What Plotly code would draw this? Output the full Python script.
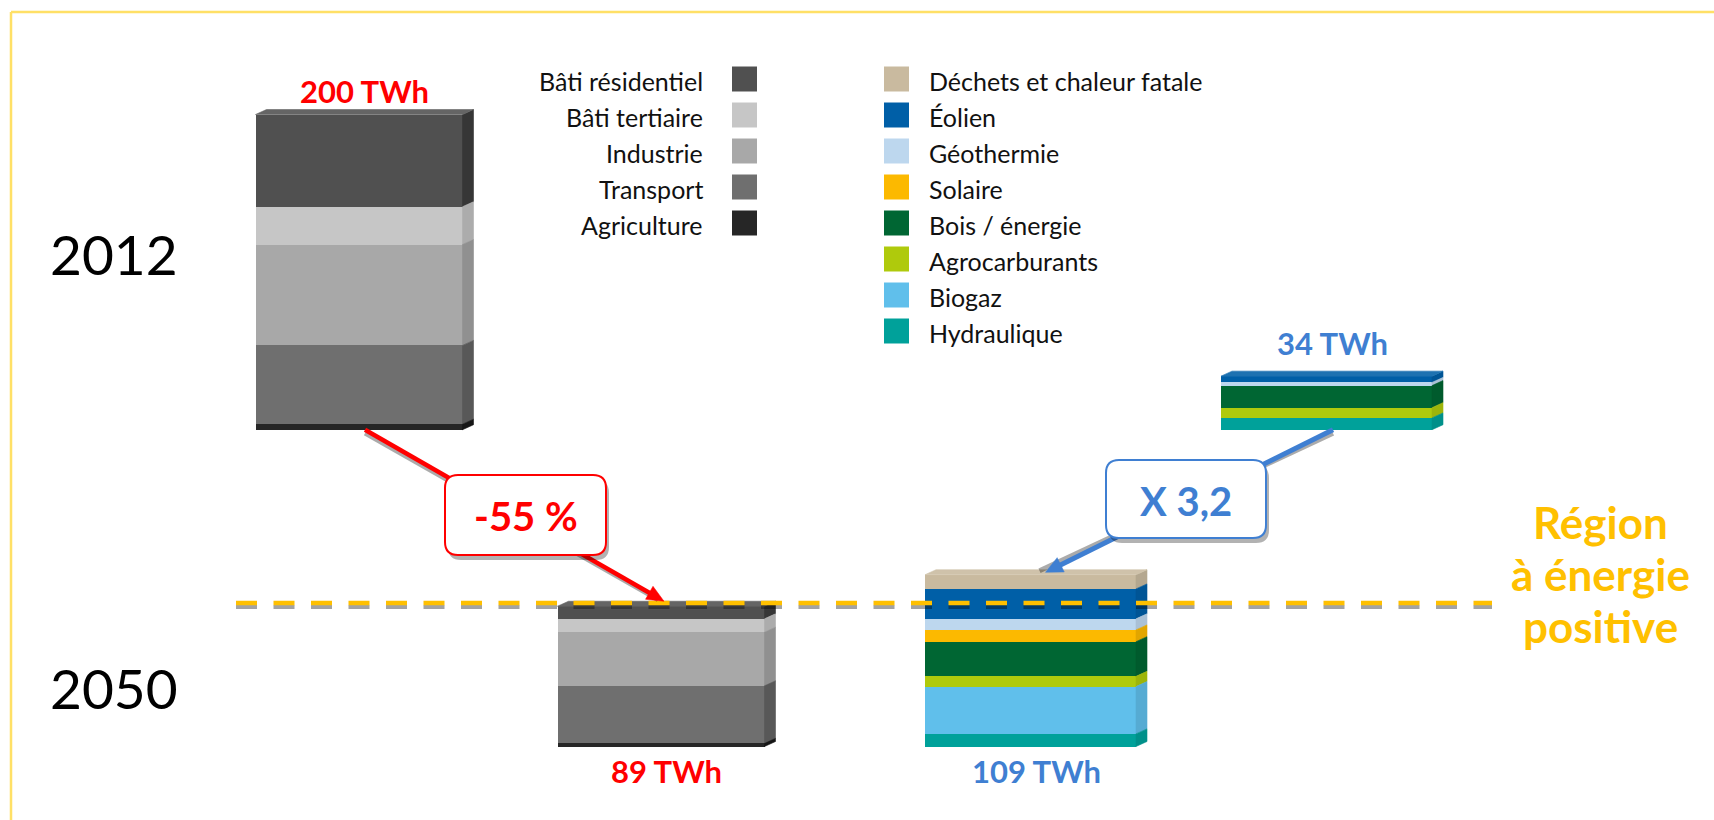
import plotly.graph_objects as go

# ---------------- data ----------------
years = ["2012", "2050"]
cons_labels = ["Bâti résidentiel", "Bâti tertiaire", "Industrie", "Transport", "Agriculture"]
cons_2012 = [58.5, 24.0, 64.0, 50.0, 3.5]
cons_2050 = [8.0, 8.5, 34.0, 36.5, 2.0]
prod_labels = ["Déchets et chaleur fatale", "Éolien", "Géothermie", "Solaire",
               "Bois / énergie", "Agrocarburants", "Biogaz", "Hydraulique"]
prod_2012 = [0.0, 4.0, 2.0, 0.0, 14.0, 6.5, 0.0, 7.5]
prod_2050 = [9.0, 19.0, 7.0, 7.5, 22.0, 6.5, 30.0, 8.0]
cons_total_labels = ["200 TWh", "89 TWh"]
prod_total_labels = ["34 TWh", "109 TWh"]
change_labels = ["-55 %", "X 3,2"]
region_lines = ["Région", "à énergie", "positive"]

# ---------------- styles ----------------
cons_colors = ["#505050", "#C6C6C6", "#A8A8A8", "#6F6F6F", "#262626"]
prod_colors = ["#C9BA9F", "#005FA7", "#BDD7EE", "#FCB900", "#006633",
               "#AFCA0C", "#60BFEB", "#00A19A"]
RED = "#FF0000"
BLUE = "#3F7FD2"
GOLD = "#FFC000"
FONT = "Lato"

W, H = 1714, 820
K = 1.576            # pixels per TWh
BASE_PX = 746.5      # pixel row of the 2050 baseline
ROW_2012 = 201.0     # vertical offset of the 2012 row (TWh units)
X_CONS = [359.0, 661.0]      # 2012, 2050
X_PROD = [1326.5, 1030.5]    # 2012, 2050
W_CONS, W_PROD = 207.0, 211.0
DX, DY = 11.0, 5.0 / K


def py2y(py):
    return (BASE_PX - py) / K


def y2py(y):
    return BASE_PX - y * K


def shade(hexc, f):
    hexc = hexc.lstrip("#")
    r, g, b = (int(hexc[i:i + 2], 16) for i in (0, 2, 4))
    if f <= 1:
        r, g, b = (int(c * f) for c in (r, g, b))
    else:
        t = f - 1
        r, g, b = (int(c + (255 - c) * t) for c in (r, g, b))
    return f"rgb({r},{g},{b})"


def bases_of(vals):
    out = [0.0] * len(vals)
    acc = 0.0
    for i in range(len(vals) - 1, -1, -1):
        out[i] = acc
        acc += vals[i]
    return out


fig = go.Figure()


def add_stack(colors, v12, v50, xs, width, side_f):
    offs = [ROW_2012, 0.0]
    b12, b50 = bases_of(v12), bases_of(v50)
    for i, col in enumerate(colors):
        vals = [v12[i], v50[i]]
        bases = [offs[0] + b12[i], offs[1] + b50[i]]
        fig.add_trace(go.Bar(x=xs, y=vals, base=bases, width=[width, width],
                             marker=dict(color=col, line=dict(width=0)),
                             showlegend=False, hoverinfo="skip"))
        # side faces
        sx, sy = [], []
        for x, v, b in zip(xs, vals, bases):
            if v <= 0:
                continue
            xr = x + width / 2
            sx += [xr, xr + DX, xr + DX, xr, xr, None]
            sy += [b, b + DY, b + v + DY, b + v, b, None]
        if sx:
            sc = shade(col, side_f[i])
            fig.add_trace(go.Scatter(x=sx, y=sy, mode="lines", fill="toself",
                                     fillcolor=sc, line=dict(color=sc, width=0.6),
                                     showlegend=False, hoverinfo="skip"))
    # top faces
    for x, vals, off in zip(xs, [v12, v50], offs):
        top_i = next(i for i, v in enumerate(vals) if v > 0)
        T = off + sum(vals)
        xl, xr = x - width / 2, x + width / 2
        tc = shade(colors[top_i], 1.12)
        fig.add_trace(go.Scatter(x=[xl, xl + DX, xr + DX, xr, xl],
                                 y=[T, T + DY, T + DY, T, T], mode="lines",
                                 fill="toself", fillcolor=tc,
                                 line=dict(color=tc, width=0.6),
                                 showlegend=False, hoverinfo="skip"))


add_stack(cons_colors, cons_2012, cons_2050, X_CONS, W_CONS, [0.68, 0.87, 0.86, 0.8, 0.6])
add_stack(prod_colors, prod_2012, prod_2050, X_PROD, W_PROD, [0.9] * 8)

shapes = []
annotations = []

# frame (top and left edges visible)
shapes.append(dict(type="line", xref="x", yref="y", x0=11, x1=W + 5, y0=py2y(12), y1=py2y(12),
                   line=dict(color="#FFE066", width=2.5)))
shapes.append(dict(type="line", xref="x", yref="y", x0=11, x1=11, y0=py2y(12), y1=py2y(H + 5),
                   line=dict(color="#FFE066", width=2.5)))

# energy-positive threshold line
level = sum(cons_2050) + 2.0
shapes.append(dict(type="line", xref="x", yref="y", x0=236, x1=1492,
                   y0=level - 4 / K, y1=level - 4 / K, layer="above",
                   line=dict(color="rgba(0,0,0,0.36)", width=4, dash="21px,16.5px")))
shapes.append(dict(type="line", xref="x", yref="y", x0=236, x1=1492,
                   y0=level, y1=level, layer="above",
                   line=dict(color=GOLD, width=4.5, dash="21px,16.5px")))


def arrow(tail, head, color, width, hl, hw):
    (tx, ty), (hx, hy) = tail, head
    tpy, hpy = y2py(ty), y2py(hy)
    # shadow
    shapes.append(dict(type="line", xref="x", yref="y", x0=tx, x1=hx - 6,
                       y0=py2y(tpy + 3.5), y1=py2y(hpy + 3.5 - 5), layer="above",
                       line=dict(color="rgba(0,0,0,0.33)", width=width)))
    # direction in pixel space
    dxp, dyp = hx - tx, hpy - tpy
    L = (dxp ** 2 + dyp ** 2) ** 0.5
    ux, uy = dxp / L, dyp / L
    bx, by = hx - ux * hl, hpy - uy * hl
    shapes.append(dict(type="line", xref="x", yref="y", x0=tx, x1=bx + ux * 2,
                       y0=ty, y1=py2y(by + uy * 2), layer="above",
                       line=dict(color=color, width=width)))
    px_, py_ = -uy, ux
    p1 = (bx + px_ * hw / 2, by + py_ * hw / 2)
    p2 = (bx - px_ * hw / 2, by - py_ * hw / 2)
    path = (f"M {hx},{hy} L {p1[0]},{py2y(p1[1])} L {p2[0]},{py2y(p2[1])} Z")
    shapes.append(dict(type="path", xref="x", yref="y", path=path, layer="above",
                       fillcolor=color, line=dict(color=color, width=0.5)))


arrow((X_CONS[0] + 6, ROW_2012), (X_CONS[1] + 3, sum(cons_2050) + DY), RED, 4.5, 17, 15)
arrow((X_PROD[0] + 6.5, ROW_2012), (X_PROD[1] + 15, sum(prod_2050) + 1.5), BLUE, 5, 17, 16)


def rrect(x0, py0, x1, py1, r):
    y0, y1 = py2y(py0), py2y(py1)
    ry = r / K
    return (f"M {x0 + r},{y0} L {x1 - r},{y0} Q {x1},{y0} {x1},{y0 - ry} "
            f"L {x1},{y1 + ry} Q {x1},{y1} {x1 - r},{y1} L {x0 + r},{y1} "
            f"Q {x0},{y1} {x0},{y1 + ry} L {x0},{y0 - ry} Q {x0},{y0} {x0 + r},{y0} Z")


for (bx0, by0, bx1, by1), col, txt, tpy in [((445, 475, 606, 555), RED, change_labels[0], 516),
                                            ((1106, 460, 1266, 538), BLUE, change_labels[1], 501)]:
    shapes.append(dict(type="path", xref="x", yref="y", layer="above",
                       path=rrect(bx0 + 3, by0 + 5, bx1 + 3, by1 + 5, 13),
                       fillcolor="rgba(0,0,0,0.3)", line=dict(width=0)))
    shapes.append(dict(type="path", xref="x", yref="y", layer="above",
                       path=rrect(bx0, by0, bx1, by1, 13),
                       fillcolor="white", line=dict(color=col, width=2)))
    annotations.append(dict(x=(bx0 + bx1) / 2, y=py2y(tpy), xref="x", yref="y",
                            text=f"<b>{txt}</b>", showarrow=False,
                            font=dict(family=FONT, size=40, color=col)))

# total labels
annotations.append(dict(x=X_CONS[0] + DX / 2, y=ROW_2012 + sum(cons_2012), yshift=24,
                        text=f"<b>{cons_total_labels[0]}</b>", showarrow=False,
                        font=dict(family=FONT, size=31, color=RED)))
annotations.append(dict(x=X_CONS[1] + DX / 2, y=0, yshift=-24.5,
                        text=f"<b>{cons_total_labels[1]}</b>", showarrow=False,
                        font=dict(family=FONT, size=31, color=RED)))
annotations.append(dict(x=X_PROD[0] + DX / 2, y=ROW_2012 + sum(prod_2012), yshift=33,
                        text=f"<b>{prod_total_labels[0]}</b>", showarrow=False,
                        font=dict(family=FONT, size=31, color=BLUE)))
annotations.append(dict(x=X_PROD[1] + DX / 2, y=0, yshift=-24.5,
                        text=f"<b>{prod_total_labels[1]}</b>", showarrow=False,
                        font=dict(family=FONT, size=31, color=BLUE)))

# year labels
for yr, py in zip(years, [254, 688]):
    annotations.append(dict(x=114, y=py2y(py), xref="x", yref="y", text=yr, showarrow=False,
                            font=dict(family=FONT, size=55, color="black")))

# region text
for line, py in zip(region_lines, [522, 574, 626]):
    annotations.append(dict(x=1600, y=py2y(py), xref="x", yref="y", text=f"<b>{line}</b>",
                            showarrow=False, font=dict(family=FONT, size=44, color=GOLD)))

# legends (manual)
ROW0, STEP = 79.0, 36.0
for i, (lab, col) in enumerate(zip(cons_labels, cons_colors)):
    cy = ROW0 + STEP * i
    shapes.append(dict(type="rect", xref="x", yref="y", x0=732, x1=757,
                       y0=py2y(cy - 12.5), y1=py2y(cy + 12.5), fillcolor=col, line=dict(width=0)))
    annotations.append(dict(x=705, y=py2y(cy + 2), xref="x", yref="y", text=lab, xanchor="right",
                            showarrow=False, font=dict(family=FONT, size=25, color="#111111")))
for i, (lab, col) in enumerate(zip(prod_labels, prod_colors)):
    cy = ROW0 + STEP * i
    shapes.append(dict(type="rect", xref="x", yref="y", x0=884, x1=909,
                       y0=py2y(cy - 12.5), y1=py2y(cy + 12.5), fillcolor=col, line=dict(width=0)))
    annotations.append(dict(x=927, y=py2y(cy + 2), xref="x", yref="y", text=lab, xanchor="left",
                            showarrow=False, font=dict(family=FONT, size=25, color="#111111")))

fig.update_layout(
    width=W, height=H, autosize=False,
    margin=dict(l=0, r=0, t=0, b=0, pad=0),
    paper_bgcolor="white", plot_bgcolor="white",
    barmode="overlay", bargap=0, showlegend=False, hovermode=False,
    xaxis=dict(range=[0, W], visible=False, fixedrange=True),
    yaxis=dict(range=[py2y(H), py2y(0)], visible=False, fixedrange=True),
    shapes=shapes, annotations=annotations,
    font=dict(family=FONT),
)

fig.write_html("out.html", config={"displayModeBar": False},
               post_script="document.body.style.margin='0';document.body.style.overflow='hidden';")
